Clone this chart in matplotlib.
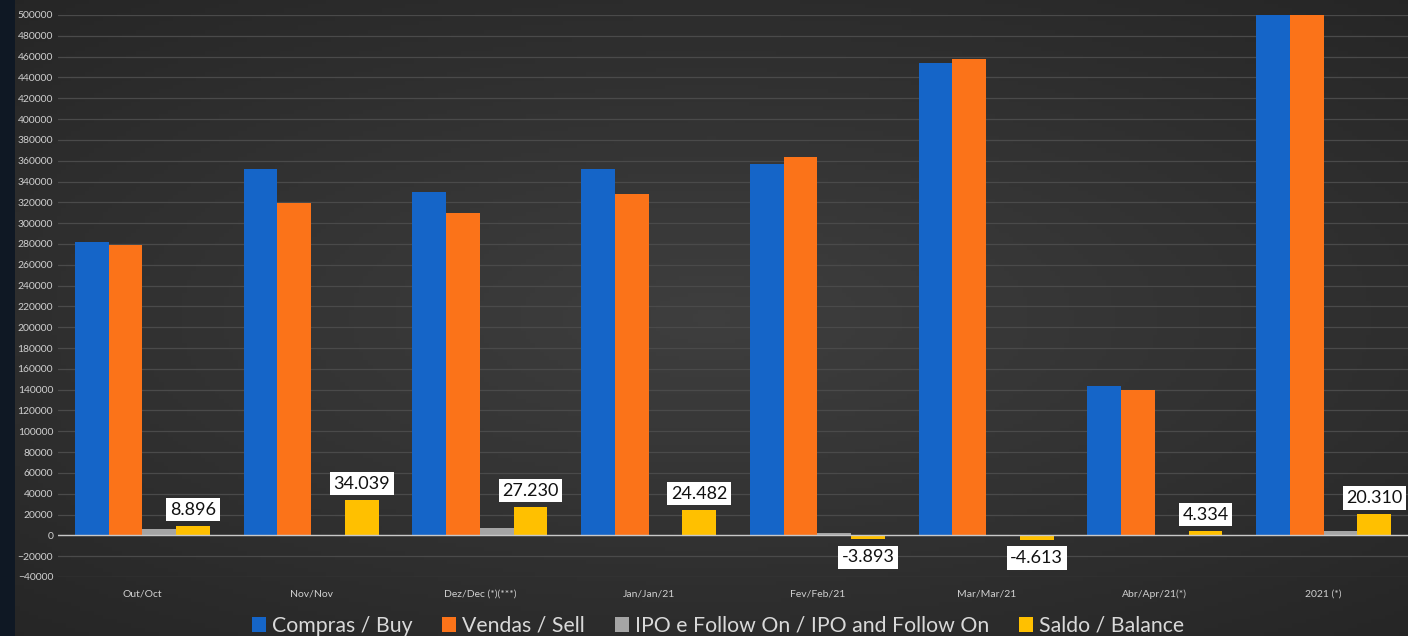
import numpy as np
import matplotlib.pyplot as plt

categories = ['Out/Oct', 'Nov/Nov', 'Dez/Dec (*)(***)', 'Jan/Jan/21', 'Fev/Feb/21',
              'Mar/Mar/21', 'Abr/Apr/21(*)', '2021 (*)']
buy = [282000, 352000, 330000, 352000, 357000, 454000, 144000, 1306000]
sell = [279000, 319000, 310000, 328000, 364000, 458000, 140000, 1296000]
ipo = [6000, 0, 7000, 0, 2000, 0, 0, 4000]
balance = [8896, 34039, 27230, 24482, -3893, -4613, 4334, 20310]
balance_labels = ['8.896', '34.039', '27.230', '24.482', '-3.893', '-4.613', '4.334', '20.310']

series_names = ['Compras / Buy', 'Vendas / Sell', 'IPO e Follow On / IPO and Follow On', 'Saldo / Balance']
colors = ['#1565c8', '#fb7319', '#a5a5a5', '#ffc000']

plt.rcParams['font.family'] = ['Lato', 'DejaVu Sans']

fig = plt.figure(figsize=(14.08, 6.36), dpi=100)
fig.patch.set_facecolor('#0f1824')

# dark gradient background panel
bg = fig.add_axes([15 / 1408, 0, 1 - 15 / 1408, 1])
bg.axis('off')
xx = np.linspace(-1, 1, 300)
yy = np.linspace(-1, 1, 150)
X, Y = np.meshgrid(xx, yy)
r = np.sqrt((X * 0.8) ** 2 + (Y * 0.9) ** 2)
lvl = 0.245 - 0.08 * np.clip(r, 0, 1.3)
img = np.dstack([lvl, lvl, lvl])
bg.imshow(img, aspect='auto', extent=[0, 1, 0, 1])
bg.set_xlim(0, 1)
bg.set_ylim(0, 1)

ax = fig.add_axes([58 / 1408, 59 / 636, 1 - 58 / 1408, (577 - 15) / 636])
ax.patch.set_alpha(0)

x = np.arange(len(categories))
w = 0.2
data = [buy, sell, ipo, balance]
for i, (vals, c) in enumerate(zip(data, colors)):
    ax.bar(x + (i - 1.5) * w, vals, w, color=c, zorder=3, label=series_names[i])

for xi, v, lab in zip(x, balance, balance_labels):
    off = 6 if v >= 0 else -7
    ax.annotate(lab, (xi + 1.5 * w, v), xytext=(0, off), textcoords='offset points',
                ha='center', va='bottom' if v >= 0 else 'top', fontsize=13, color='#111111',
                bbox=dict(boxstyle='square,pad=0.2', fc='white', ec='none'), zorder=5)

ax.set_xlim(-0.5, len(categories) - 0.5)
ax.set_ylim(-40000, 500000)
ax.set_yticks(np.arange(-40000, 500001, 20000))
ax.set_xticks(x)
ax.set_xticklabels(categories)
ax.tick_params(axis='both', length=0, colors='#d0d0d0', labelsize=7.5)
ax.tick_params(axis='x', pad=9)
ax.grid(axis='y', color='#4a4a4a', linewidth=0.9, zorder=0)
ax.axhline(0, color='#c8c8c8', linewidth=1, zorder=4)
for s in ax.spines.values():
    s.set_visible(False)

leg = fig.legend(loc='lower center', bbox_to_anchor=(0.51, -0.03), ncol=4, frameon=False,
                 fontsize=15.3, handlelength=0.65, handleheight=0.65, handletextpad=0.3,
                 columnspacing=1.4)
for t in leg.get_texts():
    t.set_color('#d9d9d9')

fig.savefig('out.png', dpi=100, facecolor=fig.get_facecolor())
